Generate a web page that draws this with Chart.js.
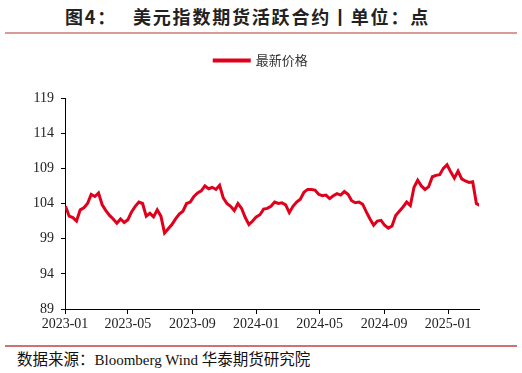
<!DOCTYPE html>
<html>
<head>
<meta charset="utf-8">
<script src="https://cdn.jsdelivr.net/npm/chart.js@4.4.1/dist/chart.umd.min.js"></script>
<style>
  html, body { margin: 0; padding: 0; background: #fff; }
  body { width: 522px; height: 373px; position: relative; overflow: hidden; }
  .title {
    position: absolute; top: 4px;
    font-family: "Noto Sans CJK SC", sans-serif; font-weight: 700; font-size: 18px;
    color: #222; white-space: pre; line-height: 24px; letter-spacing: 1.8px;
  }
  .rule { position: absolute; left: 5px; width: 512px; height: 2px; }
  .rule.top { top: 32px; background: #d99a9a; }
  .rule.bottom { top: 345px; background: #d07070; }
  .source {
    position: absolute; left: 17px; top: 347px;
    font-family: "Liberation Serif", "Noto Sans CJK SC", serif; font-size: 15px;
    color: #111; white-space: pre;
  }
  .source .cn { font-family: "Noto Sans CJK SC", sans-serif; font-size: 15.5px; }
  #wrap { position: absolute; left: 0; top: 40px; width: 522px; height: 300px; }
</style>
</head>
<body>
<div class="title" style="left:65px">图4：</div>
<div class="title" style="left:133px">美元指数期货活跃合约丨单位：点</div>
<div class="rule top"></div>
<div id="wrap"><canvas id="chart"></canvas></div>
<div class="rule bottom"></div>
<div class="source"><span class="cn">数据来源：</span>Bloomberg Wind <span class="cn">华泰期货研究院</span></div>
<script>
// weekly closes, first week starting 2023-01-02
const seriesName = '最新价格';
const firstDay = '2023-01-02';
const prices = [
  103.6, 102.2, 102.0, 101.5, 103.1, 103.4, 104.0, 105.3, 105.0, 105.5,
  103.8, 103.0, 102.3, 101.8, 101.2, 101.8, 101.3, 101.7, 102.8, 103.6,
  104.2, 104.0, 102.2, 102.6, 102.1, 103.1, 102.2, 99.8, 100.4, 101.0,
  101.8, 102.5, 102.9, 104.0, 104.2, 105.0, 105.5, 105.8, 106.5, 106.1,
  106.3, 106.0, 106.6, 104.8, 104.0, 103.6, 103.0, 104.0, 103.3, 102.0,
  101.0, 101.5, 102.1, 102.4, 103.2, 103.3, 103.6, 104.2, 104.0, 104.1,
  103.8, 102.7, 103.6, 104.2, 104.6, 105.6, 106.0, 106.0, 105.9, 105.3,
  105.1, 105.2, 104.7, 105.1, 105.4, 105.2, 105.7, 105.3, 104.4, 104.1,
  104.2, 103.9, 102.8, 101.8, 100.9, 101.5, 101.6, 100.9, 100.5, 100.8,
  102.3, 102.9, 103.5, 104.2, 103.7, 106.3, 107.3, 106.5, 106.0, 106.4,
  107.8, 108.0, 108.1, 109.0, 109.5, 108.5, 107.6, 108.6, 107.5, 107.2,
  107.0, 107.1, 104.0, 103.7
];
const xTickLabels = ['2023-01', '2023-05', '2023-09', '2024-01', '2024-05', '2024-09', '2025-01'];
const yTicks = [89, 94, 99, 104, 109, 114, 119];

const origin = new Date('2023-01-01T00:00:00Z');
const dayOf = s => Math.round((new Date(s + 'T00:00:00Z') - origin) / 86400000);
const startDay = dayOf(firstDay);
const points = prices.map((v, i) => ({ x: startDay + i * 7, y: v }));
const tickDays = xTickLabels.map(l => dayOf(l + '-01'));

const serif = "'Liberation Serif', 'Times New Roman', serif";
const red = '#e0001b';

new Chart(document.getElementById('chart'), {
  type: 'line',
  data: {
    datasets: [{
      label: seriesName,
      data: points,
      borderColor: red,
      backgroundColor: red,
      borderWidth: 3,
      pointRadius: 0,
      tension: 0
    }]
  },
  options: {
    responsive: true,
    maintainAspectRatio: false,
    animation: false,
    layout: { padding: 0 },
    plugins: {
      legend: {
        display: true,
        position: 'top',
        labels: {
          boxWidth: 35,
          boxHeight: 1,
          padding: 14,
          color: '#333',
          font: { family: "'Noto Sans CJK SC', sans-serif", size: 13 }
        }
      },
      // blank spacer between legend and plot
      subtitle: {
        display: true,
        text: '',
        weight: 500,
        font: { size: 10, lineHeight: 1 },
        padding: { top: 0, bottom: 11 }
      },
      tooltip: { enabled: false }
    },
    scales: {
      x: {
        type: 'linear',
        min: 0,
        max: 790,
        afterBuildTicks: s => { s.ticks = tickDays.map(v => ({ value: v })); },
        afterFit: s => { s.height = 31; },
        ticks: {
          autoSkip: false,
          maxRotation: 0,
          color: '#222',
          padding: 2,
          font: { family: serif, size: 14 },
          callback: v => xTickLabels[tickDays.indexOf(v)]
        },
        grid: { drawOnChartArea: false, drawTicks: true, tickLength: 5, tickColor: '#000' },
        border: { color: '#000', width: 1 }
      },
      y: {
        min: 89,
        max: 119,
        afterBuildTicks: s => { s.ticks = yTicks.map(v => ({ value: v })); },
        afterFit: s => { s.width = 65; },
        ticks: {
          color: '#222',
          padding: 7,
          font: { family: serif, size: 14 }
        },
        grid: { drawOnChartArea: false, drawTicks: true, tickLength: 4, tickColor: '#000' },
        border: { color: '#000', width: 1 }
      },
      // empty right margin so the legend centres on the full width
      pad: {
        position: 'right',
        afterFit: s => { s.width = 43; },
        ticks: { display: false },
        grid: { display: false },
        border: { display: false }
      }
    }
  }
});
</script>
</body>
</html>
